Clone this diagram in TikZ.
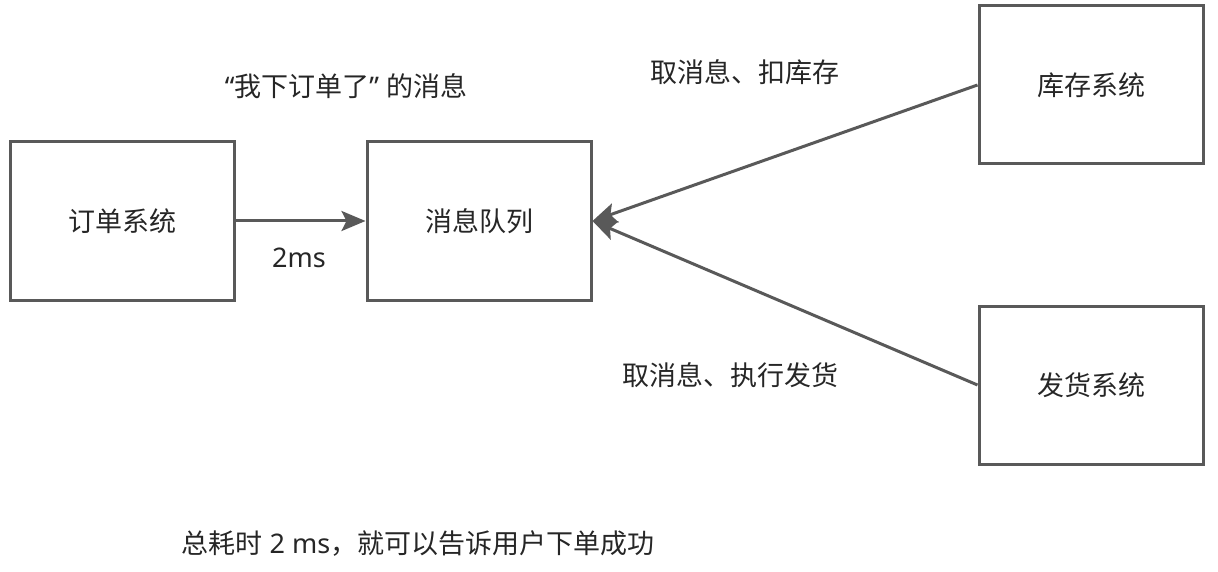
\documentclass[tikz,border=0pt]{standalone}
\usepackage{fontspec}
\setmainfont{Noto Sans CJK SC}
\newfontfamily\lat{Noto Sans}
\usetikzlibrary{arrows.meta}
\definecolor{edge}{HTML}{595959}
\definecolor{txt}{HTML}{262626}
\begin{document}
\begin{tikzpicture}[x=1pt,y=-1pt,
  sysbox/.style={draw=edge,line width=3pt,minimum width=224pt,minimum height=158pt,inner sep=0pt,text=txt,font=\fontsize{27}{32}\selectfont},
  lbl/.style={text=txt,font=\fontsize{27}{32}\selectfont,inner sep=0pt},
  conn/.style={draw=edge,line width=3pt,-{Stealth[length=24pt,width=20pt,inset=5pt]}}]
\useasboundingbox (0,0) rectangle (1218,572);
\node[sysbox] (o) at (122,221) {订单系统};
\node[sysbox] (q) at (479,221) {消息队列};
\node[sysbox] (k) at (1091,85) {库存系统};
\node[sysbox] (f) at (1091,385) {发货系统};
\draw[conn] (o.east) -- (q.west);
\draw[conn] (k.west) -- (q.east);
\draw[conn] (f.west) -- (q.east);
\node[lbl] (t1) at (346,86) {{\lat “}我下订单了{\lat ” }的消息};
\node[lbl] (t2) at (299,258) {\lat 2ms};
\node[lbl] (t3) at (745,72) {取消息、扣库存};
\node[lbl] (t4) at (730,375) {取消息、执行发货};
\node[lbl] (t5) at (418,544) {总耗时{\lat\ 2 ms}，就可以告诉用户下单成功};
\end{tikzpicture}
\end{document}
